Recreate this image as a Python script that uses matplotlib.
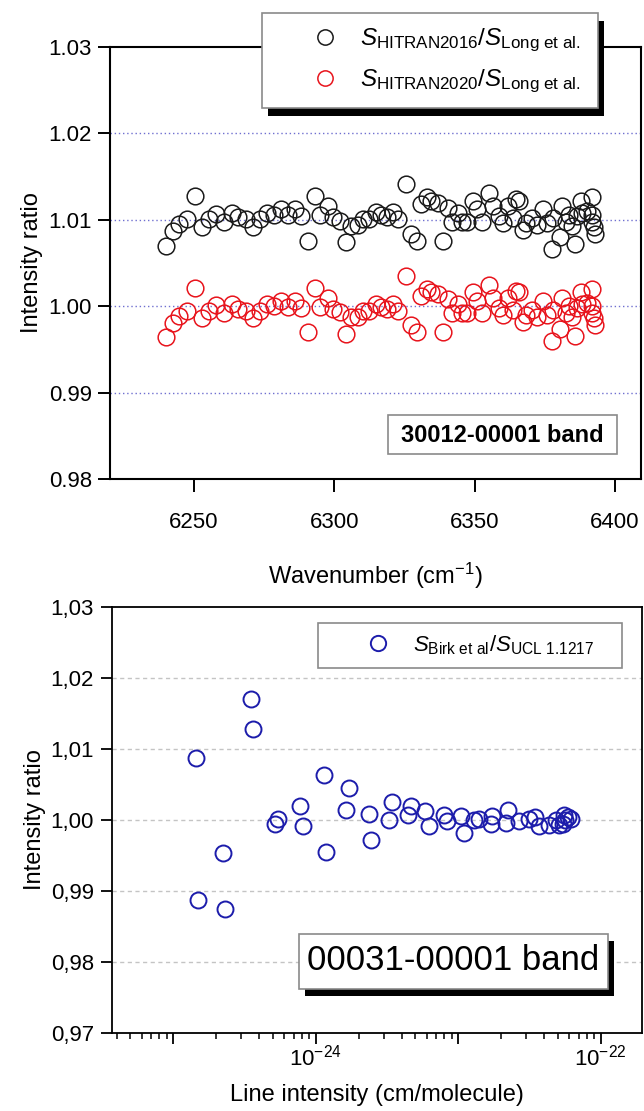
import numpy as np
import matplotlib
matplotlib.use('Agg')
import matplotlib.pyplot as plt
from matplotlib.patches import Rectangle
from matplotlib.lines import Line2D
from matplotlib.ticker import FixedLocator, FuncFormatter, LogLocator, NullFormatter

plt.rcParams['font.family'] = ['Liberation Sans', 'DejaVu Sans']
plt.rcParams['mathtext.fontset'] = 'custom'
plt.rcParams['mathtext.rm'] = 'Liberation Sans'
plt.rcParams['mathtext.it'] = 'Liberation Sans:italic'
plt.rcParams['mathtext.bf'] = 'Liberation Sans:bold'

# ---------------- data: top panel (30012-00001 band) ----------------
wavenumber = [6240.0, 6242.4, 6244.7, 6247.6, 6250.4, 6253.0, 6255.4, 6258.0, 6260.8, 6263.6,
              6265.8, 6268.4, 6271.1, 6273.5, 6275.9, 6278.5, 6281.1, 6283.6, 6285.9, 6288.3,
              6290.7, 6293.0, 6294.8, 6297.8, 6299.5, 6302.0, 6304.3, 6305.8, 6308.5, 6310.2,
              6312.4, 6314.8, 6316.8, 6318.8, 6320.9, 6322.7, 6325.4, 6327.3, 6329.5, 6330.9,
              6333.1, 6334.5, 6336.8, 6338.8, 6340.6, 6341.8, 6344.0, 6345.4, 6347.2, 6349.3,
              6350.9, 6352.7, 6355.2, 6356.4, 6358.8, 6360.0, 6361.8, 6363.6, 6364.8, 6366.0,
              6367.3, 6368.5, 6370.3, 6372.1, 6374.5, 6375.7, 6377.5, 6378.1, 6380.5, 6381.2,
              6382.4, 6383.6, 6384.8, 6385.7, 6386.4, 6387.8, 6388.4, 6390.2, 6391.7, 6391.7,
              6392.0, 6392.6, 6392.9]
ratio_hitran2016 = [1.0070, 1.0087, 1.0095, 1.0101, 1.0127, 1.0092, 1.0101, 1.0107, 1.0098, 1.0108,
                    1.0103, 1.0101, 1.0092, 1.0101, 1.0108, 1.0106, 1.0112, 1.0105, 1.0112, 1.0104,
                    1.0076, 1.0127, 1.0105, 1.0116, 1.0103, 1.0099, 1.0074, 1.0093, 1.0094, 1.0101,
                    1.0101, 1.0109, 1.0105, 1.0103, 1.0109, 1.0101, 1.0141, 1.0084, 1.0076, 1.0118,
                    1.0126, 1.0122, 1.0120, 1.0076, 1.0114, 1.0098, 1.0108, 1.0098, 1.0098, 1.0122,
                    1.0112, 1.0098, 1.0131, 1.0116, 1.0104, 1.0096, 1.0116, 1.0102, 1.0124, 1.0122,
                    1.0088, 1.0096, 1.0102, 1.0094, 1.0112, 1.0096, 1.0066, 1.0102, 1.0080, 1.0116,
                    1.0098, 1.0106, 1.0093, 1.0072, 1.0104, 1.0122, 1.0108, 1.0110, 1.0126, 1.0106,
                    1.0098, 1.0092, 1.0084]
ratio_hitran2020 = [0.9964, 0.9981, 0.9989, 0.9995, 1.0021, 0.9986, 0.9995, 1.0001, 0.9992, 1.0002,
                    0.9997, 0.9995, 0.9986, 0.9995, 1.0002, 1.0000, 1.0006, 0.9999, 1.0006, 0.9998,
                    0.9970, 1.0021, 0.9999, 1.0010, 0.9997, 0.9993, 0.9968, 0.9987, 0.9988, 0.9995,
                    0.9995, 1.0003, 0.9999, 0.9997, 1.0003, 0.9995, 1.0035, 0.9978, 0.9970, 1.0012,
                    1.0020, 1.0016, 1.0014, 0.9970, 1.0008, 0.9992, 1.0002, 0.9992, 0.9992, 1.0016,
                    1.0006, 0.9992, 1.0025, 1.0010, 0.9998, 0.9990, 1.0010, 0.9996, 1.0018, 1.0016,
                    0.9982, 0.9990, 0.9996, 0.9988, 1.0006, 0.9990, 0.9960, 0.9996, 0.9974, 1.0010,
                    0.9992, 1.0000, 0.9987, 0.9966, 0.9998, 1.0016, 1.0002, 1.0004, 1.0020, 1.0000,
                    0.9992, 0.9986, 0.9978]
top_xticks = [6250, 6300, 6350, 6400]
top_yticks = [0.98, 0.99, 1.00, 1.01, 1.02, 1.03]
top_grid = [0.99, 1.00, 1.01, 1.02]

# ---------------- data: bottom panel (00031-00001 band) ----------------
line_intensity = [1.45e-25, 1.48e-25, 2.25e-25, 2.31e-25, 3.51e-25, 3.65e-25, 5.16e-25, 5.45e-25,
                  7.73e-25, 8.15e-25, 1.14e-24, 1.19e-24, 1.64e-24, 1.71e-24, 2.36e-24, 2.45e-24,
                  3.26e-24, 3.42e-24, 4.43e-24, 4.67e-24, 5.85e-24, 6.27e-24, 7.98e-24, 8.28e-24,
                  1.04e-23, 1.09e-23, 1.29e-23, 1.39e-23, 1.69e-23, 1.74e-23, 2.16e-23, 2.25e-23,
                  2.67e-23, 3.14e-23, 3.45e-23, 3.68e-23, 4.33e-23, 4.82e-23, 5.08e-23, 5.42e-23,
                  5.51e-23, 5.66e-23, 5.90e-23, 6.14e-23]
ratio_birk = [1.0088, 0.9887, 0.9953, 0.9875, 1.0170, 1.0128, 0.9995, 1.0002,
              1.0020, 0.9991, 1.0064, 0.9955, 1.0014, 1.0045, 1.0009, 0.9972,
              1.0000, 1.0026, 1.0007, 1.0020, 1.0012, 0.9991, 1.0007, 0.9999,
              1.0006, 0.9981, 1.0000, 1.0002, 0.9995, 1.0005, 0.9996, 1.0014,
              0.9999, 1.0001, 1.0004, 0.9991, 0.9993, 1.0000, 0.9993, 0.9995,
              1.0007, 1.0000, 1.0004, 1.0001]
bot_xticks = [1e-25, 1e-24, 1e-23, 1e-22]
bot_yticks = [0.97, 0.98, 0.99, 1.00, 1.01, 1.02, 1.03]
bot_grid = [0.98, 0.99, 1.00, 1.01, 1.02]

W, H = 644, 1111
fig = plt.figure(figsize=(W / 100, H / 100), dpi=100)


def fx(x):
    return x / W


def fy(y):
    return 1 - y / H


def box(x0, y0, x1, y1, shadow=None, ec='#8a8a8a'):
    if shadow is not None:
        dx, dy = shadow
        fig.add_artist(Rectangle((fx(x0 + dx), fy(y1 + dy)), (x1 - x0) / W, (y1 - y0) / H,
                                 transform=fig.transFigure, fc='black', ec='none', zorder=4))
    fig.add_artist(Rectangle((fx(x0), fy(y1)), (x1 - x0) / W, (y1 - y0) / H,
                             transform=fig.transFigure, fc='white', ec=ec, lw=1.2, zorder=5))


# ================= top panel =================
ax1 = fig.add_axes([fx(110), fy(479), (641 - 110) / W, (479 - 47) / H])
ax1.set_xlim(6220.1, 6409.3)
ax1.set_ylim(0.98, 1.03)
for g in top_grid:
    ax1.axhline(g, color='#6f6fd0', lw=1.0, ls=(0, (1, 2)), zorder=0)
ax1.plot(wavenumber, ratio_hitran2016, ls='none', marker='o', ms=12, mfc='none',
         mec='#1a1a1a', mew=1.1, zorder=3)
ax1.plot(wavenumber, ratio_hitran2020, ls='none', marker='o', ms=12, mfc='none',
         mec='#e8141c', mew=1.1, zorder=3)
ax1.xaxis.set_major_locator(FixedLocator(top_xticks))
ax1.yaxis.set_major_locator(FixedLocator(top_yticks))
ax1.yaxis.set_major_formatter(FuncFormatter(lambda v, p: f'{v:.2f}'))
ax1.tick_params(axis='both', direction='out', length=9, width=1.4, labelsize=16, pad=4)
ax1.tick_params(axis='x', pad=15)
for s in ax1.spines.values():
    s.set_linewidth(1.5)
ax1.set_xlabel('Wavenumber (cm$^{-1}$)', fontsize=17, labelpad=20)
ax1.set_ylabel('Intensity ratio', fontsize=17, labelpad=4)

# legend (top)
box(262, 13, 598, 108, shadow=(6, 8), ec='#8a8a8a')
fig.add_artist(Line2D([fx(325)], [fy(37)], transform=fig.transFigure, ls='none', marker='o',
                      ms=11, mfc='none', mec='#1a1a1a', mew=1.1, zorder=6))
fig.add_artist(Line2D([fx(325)], [fy(78)], transform=fig.transFigure, ls='none', marker='o',
                      ms=11, mfc='none', mec='#e8141c', mew=1.1, zorder=6))
fig.text(fx(360), fy(40), r'$S_{\mathrm{HITRAN2016}}/S_{\mathrm{Long\ et\ al.}}$', fontsize=17.5,
         va='center', ha='left', zorder=7)
fig.text(fx(360), fy(81), r'$S_{\mathrm{HITRAN2020}}/S_{\mathrm{Long\ et\ al.}}$', fontsize=17.5,
         va='center', ha='left', zorder=7)

# band label (top)
box(388, 415, 617, 454, ec='#8a8a8a')
fig.text(fx(502.5), fy(435), '30012-00001 band', fontsize=17, fontweight='bold',
         ha='center', va='center', zorder=7)

# ================= bottom panel =================
ax2 = fig.add_axes([fx(112), fy(1033), (642 - 112) / W, (1033 - 607) / H])
ax2.set_xscale('log')
ax2.set_xlim(10 ** -25.43, 10 ** -21.71)
ax2.set_ylim(0.97, 1.03)
for g in bot_grid:
    ax2.axhline(g, color='#c4c4c4', lw=1.0, ls=(0, (3, 2.5)), zorder=0)
ax2.plot(line_intensity, ratio_birk, ls='none', marker='o', ms=11.5, mfc='none',
         mec='#1c1cab', mew=1.4, zorder=3)
ax2.xaxis.set_major_locator(FixedLocator(bot_xticks))
ax2.xaxis.set_minor_locator(LogLocator(base=10, subs=np.arange(2, 10), numticks=40))
ax2.xaxis.set_minor_formatter(NullFormatter())


def logfmt(v, p):
    e = int(round(np.log10(v)))
    return f'$10^{{{e}}}$' if e % 2 == 0 else ''


ax2.xaxis.set_major_formatter(FuncFormatter(logfmt))
ax2.yaxis.set_major_locator(FixedLocator(bot_yticks))
ax2.yaxis.set_major_formatter(FuncFormatter(lambda v, p: f'{v:.2f}'.replace('.', ',')))
ax2.tick_params(axis='both', which='major', direction='out', length=8, width=1.3,
                labelsize=16, pad=5)
ax2.tick_params(axis='x', which='major', pad=0)
ax2.tick_params(axis='x', which='minor', direction='out', length=4.5, width=1.1)
for s in ax2.spines.values():
    s.set_linewidth(1.3)
ax2.set_xlabel('Line intensity (cm/molecule)', fontsize=17, labelpad=10)
ax2.set_ylabel('Intensity ratio', fontsize=17, labelpad=3)

# legend (bottom)
box(318, 623, 622, 668, ec='#8a8a8a')
fig.add_artist(Line2D([fx(378)], [fy(643)], transform=fig.transFigure, ls='none', marker='o',
                      ms=11, mfc='none', mec='#1c1cab', mew=1.4, zorder=6))
fig.text(fx(413), fy(645), r'$S_{\mathrm{Birk\ et\ al}}/S_{\mathrm{UCL\ 1.1217}}$', fontsize=16,
         va='center', ha='left', zorder=7)

# band label (bottom)
box(299, 934, 608, 989, shadow=(6, 7), ec='#8a8a8a')
fig.text(fx(453.5), fy(961), '00031-00001 band', fontsize=25, ha='center', va='center', zorder=7)

fig.savefig('out.png', dpi=100)
